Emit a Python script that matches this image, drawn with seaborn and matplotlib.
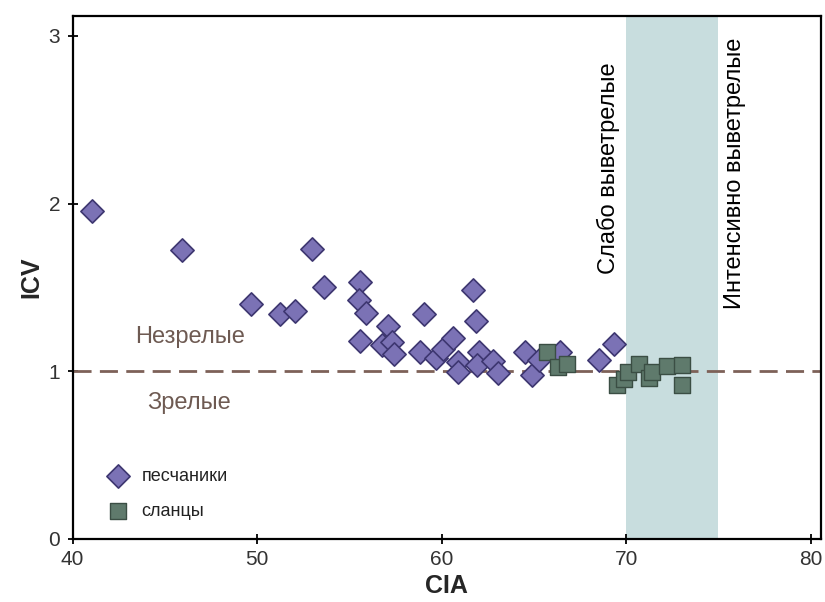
import numpy as np
import pandas as pd
import matplotlib
matplotlib.use("Agg")
import matplotlib.pyplot as plt
import seaborn as sns

# --- data ---
sand_cia = [41.07, 45.92, 49.67, 51.25, 52.06, 53.0, 53.63, 55.6, 55.55, 55.9,
            55.58, 57.12, 56.76, 57.3, 57.43, 58.83, 59.05, 59.7, 60.1, 60.64,
            60.91, 60.91, 61.69, 61.87, 62.0, 61.9, 62.8, 63.08, 64.53, 64.9,
            65.25, 66.42, 68.55, 69.35]
sand_icv = [1.955, 1.722, 1.398, 1.344, 1.358, 1.726, 1.503, 1.532, 1.424, 1.350,
            1.179, 1.269, 1.155, 1.175, 1.10, 1.115, 1.344, 1.08, 1.13, 1.20,
            1.056, 0.996, 1.484, 1.298, 1.115, 1.036, 1.06, 0.99, 1.115, 0.976,
            1.066, 1.115, 1.066, 1.165]
shale_cia = [65.7, 66.28, 66.82, 69.5, 69.86, 70.09, 70.67, 71.26, 71.39, 72.2, 73.02, 73.05]
shale_icv = [1.115, 1.026, 1.042, 0.915, 0.956, 0.996, 1.046, 0.962, 0.996, 1.03, 1.036, 0.916]

series_names = ["песчаники", "сланцы"]
x_ticks = [40, 50, 60, 70, 80]
y_ticks = [0, 1, 2, 3]
zone_labels = ["Незрелые", "Зрелые"]
weather_labels = ["Слабо выветрелые", "Интенсивно выветрелые"]
band_range = [70, 75]
threshold = 1

df_sand = pd.DataFrame({"CIA": sand_cia, "ICV": sand_icv, "type": series_names[0]})
df_shale = pd.DataFrame({"CIA": shale_cia, "ICV": shale_icv, "type": series_names[1]})

sns.set_theme(style="white")
plt.rcParams['font.family'] = ['Liberation Sans', 'DejaVu Sans']

fig = plt.figure(figsize=(8.25, 6.02), dpi=100)
ax = fig.add_axes([0.0879, 0.1047, 0.9071, 0.8693])

ax.axvspan(band_range[0], band_range[1], color="#C8DDDE", zorder=0, lw=0)
ax.axhline(threshold, color="#7D6158", lw=2, dashes=(6.5, 3), zorder=1)

sns.scatterplot(data=df_sand, x="CIA", y="ICV", marker="D", s=140,
                color="#7B72B5", edgecolor="#3D3670", linewidth=1.2,
                label=series_names[0], ax=ax, zorder=3)
sns.scatterplot(data=df_shale, x="CIA", y="ICV", marker="s", s=140,
                color="#5F7A6C", edgecolor="#3B4E44", linewidth=1.0,
                label=series_names[1], ax=ax, zorder=4)

ax.set_xlim(40, 80.55)
ax.set_ylim(0, 3.12)
ax.set_xticks(x_ticks)
ax.set_yticks(y_ticks)
ax.tick_params(axis="both", which="major", bottom=True, left=True, top=False, right=False,
               direction="inout", length=7.5, width=1.3,
               labelsize=15, colors="black", labelcolor="#333333")
ax.tick_params(axis="x", pad=4)
ax.tick_params(axis="y", pad=5)
for sp in ax.spines.values():
    sp.set_visible(True)
    sp.set_color("black")
    sp.set_linewidth(1.6)

ax.set_xlabel("CIA", fontsize=18, fontweight="bold", labelpad=4)
ax.set_ylabel("ICV", fontsize=18, fontweight="bold", labelpad=4)

ax.text(46.35, 1.205, zone_labels[0], fontsize=17, color="#6E5A52",
        ha="center", va="center")
ax.text(46.3, 0.81, zone_labels[1], fontsize=17, color="#6E5A52",
        ha="center", va="center")
ax.text(69.02, 2.21, weather_labels[0], fontsize=17, color="black",
        rotation=90, ha="center", va="center")
ax.text(75.9, 2.18, weather_labels[1], fontsize=17, color="black",
        rotation=90, ha="center", va="center")

leg = ax.legend(loc="lower left", bbox_to_anchor=(0.02, 0.012), frameon=False,
                fontsize=13, handletextpad=0.3, labelspacing=1.0,
                markerscale=1.0, borderpad=0.2)
for t in leg.get_texts():
    t.set_color("#222222")

fig.savefig("out.png", dpi=100)
